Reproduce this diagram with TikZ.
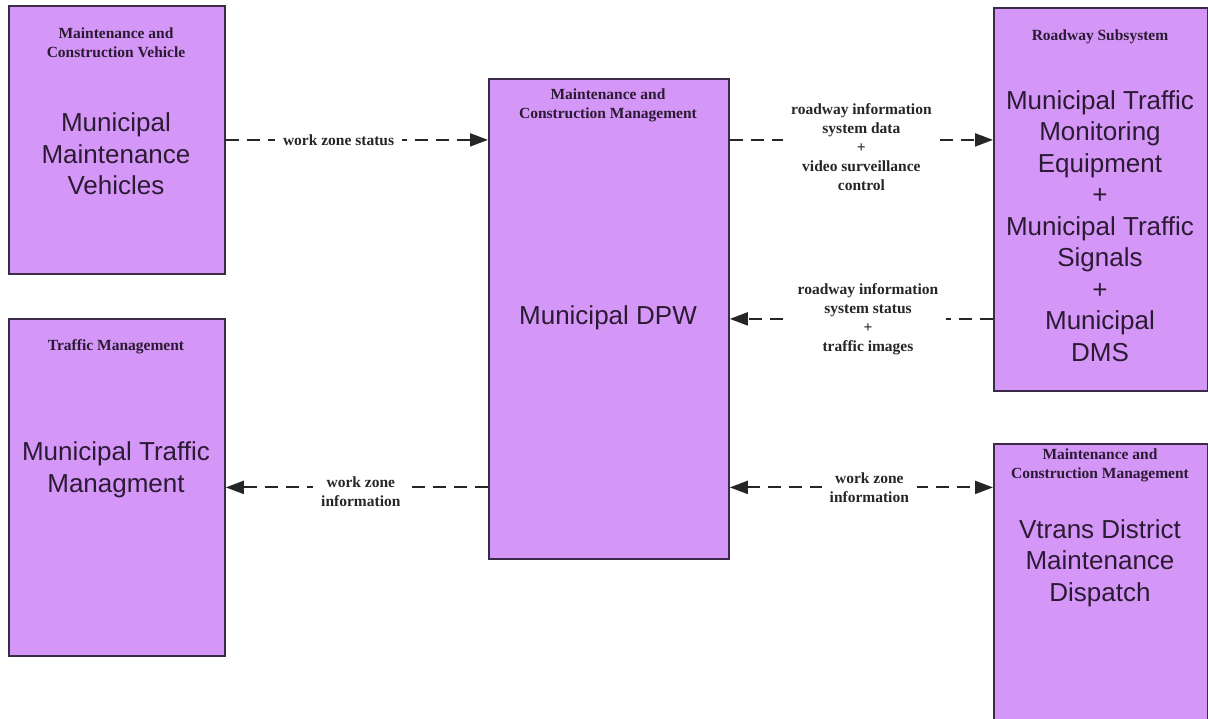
\documentclass[tikz,border=0pt]{standalone}
\usepackage{fontspec}
\setmainfont{Liberation Serif}
\newfontfamily\arialf{Liberation Sans}
\usetikzlibrary{arrows.meta}
\definecolor{boxfill}{HTML}{D597F7}
\definecolor{boxline}{HTML}{3B2A48}
\definecolor{txt}{HTML}{2B1A33}
\tikzset{
 sysbox/.style={draw=boxline, fill=boxfill, line width=1.8pt, rectangle, inner sep=0pt, anchor=north west},
 boxtitle/.style={font=\fontsize{15.5}{19}\selectfont\bfseries, align=center, text=txt},
 boxmain/.style={font=\arialf\fontsize{26}{31.5}\selectfont, align=center, text=txt},
 flow/.style={line width=2pt, dash pattern=on 13pt off 8pt, draw=black!85},
 tipend/.style={-{Triangle[length=18pt,width=13pt]}},
 tipboth/.style={{Triangle[length=18pt,width=13pt]}-{Triangle[length=18pt,width=13pt]}},
 flowlabel/.style={font=\fontsize{15.5}{19}\selectfont\bfseries, align=center, fill=white, inner sep=8pt, text=black!85},
}
\begin{document}
\begin{tikzpicture}[x=1pt,y=-1pt]
\useasboundingbox[fill=white] (0,0) rectangle (1208,718);
% boxes
\node[sysbox, minimum width=216pt, minimum height=268pt] (mcv) at (8,5) {};
\node[sysbox, minimum width=216pt, minimum height=337pt] (tm) at (8,318) {};
\node[sysbox, minimum width=240pt, minimum height=480pt] (dpw) at (488,78) {};
\node[sysbox, minimum width=214pt, minimum height=383pt] (road) at (993,7) {};
\node[sysbox, minimum width=214pt, minimum height=290pt] (vt) at (993,443) {};
% texts
\node[boxtitle] (mcvt) at (116,43) {Maintenance and\\Construction Vehicle};
\node[boxmain] (mcvm) at (116,154) {Municipal\\Maintenance\\Vehicles};
\node[boxtitle] (tmt) at (116,347) {Traffic Management};
\node[boxmain] (tmm) at (116,470) {Municipal Traffic\\Managment};
\node[boxtitle] (dpwt) at (608,105) {Maintenance and\\Construction Management};
\node[boxmain] (dpwm) at (608,318) {Municipal DPW};
\node[boxtitle] (roadt) at (1100,37) {Roadway Subsystem};
\node[boxmain] (roadm) at (1100,226) {Municipal Traffic\\Monitoring\\Equipment\\+\\Municipal Traffic\\Signals\\+\\Municipal\\DMS};
\node[boxtitle] (vtt) at (1100,465) {Maintenance and\\Construction Management};
\node[boxmain] (vtm) at (1100,563) {Vtrans District\\Maintenance\\Dispatch};
% flows
\draw[flow, tipend] (mcv.east) -- node[flowlabel, pos=0.43] {work zone status} (mcv.east -| dpw.west);
\draw[flow, tipend] (dpw.east |- mcv.east) -- node[flowlabel, pos=0.5, yshift=-7pt] {roadway information\\system data\\+\\video surveillance\\control} (road.west |- mcv.east);
\draw[flow, tipend] (road.west |- dpw.east) -- node[flowlabel, pos=0.475] {roadway information\\system status\\+\\traffic images} (dpw.east);
\draw[flow, tipend] (dpw.west |- tm.east) -- node[flowlabel, pos=0.485, yshift=-4pt] {work zone\\information} (tm.east);
\draw[flow, tipboth] (dpw.east |- tm.east) -- node[flowlabel, pos=0.53] {work zone\\information} (vt.west |- tm.east);
\end{tikzpicture}
\end{document}
